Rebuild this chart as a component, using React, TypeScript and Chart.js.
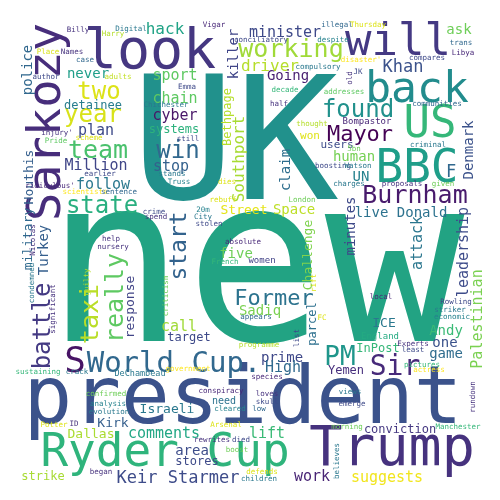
import React, { useEffect, useRef } from "react";
import { Chart, registerables } from "chart.js";
Chart.register(...registerables);

const words: string[] = [];
const xs: number[] = [];
const ys: number[] = [];
const sizes: number[] = [];
const vertical: boolean[] = [];
const colors: string[] = [];
function w(t: string, x: number, y: number, s: number, c: string, v = false) {
  words.push(t); xs.push(x); ys.push(y); sizes.push(s); colors.push(c); vertical.push(v);
}
w("UK", 235, 199, 172, "#21918c");
w("new", 255, 341, 232, "#22a383");
w("president", 243, 423, 81, "#3b528b");
w("Ryder Cup", 165, 466, 46, "#2fb47c");
w("Trump", 392, 465, 55, "#46327e");
w("look", 150, 68, 55, "#453781");
w("will", 398, 55, 44, "#443983");
w("back", 417, 102, 43, "#228c8d");
w("US", 430, 137, 44, "#35b779");
w("BBC", 417, 182, 46, "#1f9e89");
w("Sarkozy", 60, 122, 47, "#472d7b", true);
w("found", 358, 117, 24, "#21918c");
w("Mayor", 360, 141, 22, "#440154");
w("Burnham", 415, 203, 25, "#481a6c");
w("working", 291, 57, 25, "#a0da39");
w("minister", 285, 37, 15, "#3e4989");
w("hack", 165, 34, 16, "#20a386");
w("driver", 270, 71, 16, "#b5de2b");
w("Khan", 403, 72, 17, "#3b528b");
w("Going", 288, 80, 14, "#481f70");
w("ask", 459, 34, 14, "#6ece58");
w("two", 99, 99, 24, "#dde318");
w("year", 93, 122, 24, "#d8e219");
w("team", 98, 158, 25, "#4ac16d");
w("state", 102, 213, 24, "#29af7f");
w("never", 88, 78, 14, "#1f9e89");
w("detainee", 93, 109, 12, "#287d8e");
w("plan", 96, 135, 15, "#3e4a89");
w("Million", 96, 170, 15, "#404688");
w("follow", 103, 189, 15, "#2a788e");
w("sport", 175, 80, 15, "#5ec962");
w("chain", 175, 103, 15, "#5ec962");
w("cyber", 175, 120, 15, "#481668");
w("systems", 174, 133, 12, "#2db27d");
w("win", 178, 158, 24, "#31688e");
w("stop", 171, 171, 15, "#34618d");
w("Street", 244, 214, 13, "#e5e419");
w("Space", 294, 214, 14, "#bddf26");
w("users", 337, 148, 11, "#3e4c8a");
w("human", 354, 161, 14, "#75d054");
w("UN", 361, 181, 14, "#26828e");
w("won", 310, 139, 11, "#dfe318");
w("live Donald", 401, 217, 14, "#2c728e");
w("Bompastor", 367, 124, 9, "#482677");
w("F", 451, 177, 17, "#31688e");
w("police", 32, 70, 14, "#31688e", true);
w("Houthis", 33, 177, 13, "#355f8d", true);
w("killer", 238, 54, 14, "#404588", true);
w("Bethpage", 231, 117, 12, "#b5de2b", true);
w("Southport", 244, 159, 16, "#a8db34", true);
w("claim", 290, 170, 14, "#2e6e8e", true);
w("Denmark", 473, 150, 14, "#3b528b", true);
w("minutes", 355, 226, 14, "#3e4989", true);
w("start", 186, 246, 23, "#33638d", true);
w("military", 32, 239, 13, "#30698e", true);
w("Turkey", 48, 250, 14, "#355f8d", true);
w("Challenge", 312, 255, 13, "#7fd34e", true);
w("leadership", 468, 252, 15, "#3e4c8a", true);
w("attack", 422, 243, 15, "#2a768e", true);
w("battle", 50, 326, 24, "#443a83", true);
w("taxi", 98, 314, 25, "#bade28", true);
w("really", 123, 298, 25, "#5ec962", true);
w("response", 134, 307, 13, "#414487", true);
w("parcel", 316, 324, 12, "#2d708e", true);
w("Palestinian", 482, 319, 15, "#7ad151", true);
w("S", 75, 372, 36, "#471365");
w("World Cup.", 174, 372, 29, "#31688e");
w("PM", 340, 365, 26, "#1f968b");
w("Sir", 395, 375, 28, "#472a7a");
w("Former", 274, 305, 22, "#2c738e");
w("Sadiq", 260, 315, 14, "#7ad151");
w("call", 179, 331, 15, "#a0da39");
w("target", 189, 341, 12, "#3e4a89");
w("ICE", 384, 327, 13, "#2a788e");
w("Andy", 446, 335, 14, "#3aba76");
w("one", 445, 347, 14, "#3b528b");
w("game", 446, 358, 14, "#2f6c8e");
w("InPost", 378, 352, 12, "#35b779");
w("England", 380, 339, 9, "#25ab82");
w("prime", 282, 362, 14, "#3f4889");
w("High", 283, 372, 15, "#306a8e");
w("Yemen", 346, 374, 12, "#472f7d");
w("DeChambeau", 140, 376, 8.5, "#2a788e");
w("Israeli", 167, 413, 13, "#2a788e");
w("need", 224, 404, 10, "#2c728e");
w("Kirk", 113, 427, 13, "#355f8d");
w("Dallas", 91, 438, 13, "#aadc32");
w("comments", 164, 438, 15, "#22a785");
w("area", 192, 455, 14, "#3d4d8a");
w("stores", 197, 465, 12, "#3e4a89");
w("lift", 267, 438, 15, "#3aba76");
w("Keir Starmer", 178, 483, 17, "#3e4c8a");
w("strike", 43, 480, 12, "#a8db34");
w("work", 312, 481, 15, "#482475");
w("suggests", 387, 482, 15, "#f1e51d");
w("conviction", 400, 433, 12, "#453882");
w("five", 236, 258, 14, "#6ece58");
w("women", 262, 263, 9, "#414287");
const small: [string, number, number, string][] = [
  ["Billy", 78, 32, "#46327e"], ["Harry", 113, 36, "#b5de2b"], ["Digital", 131, 31, "#2a788e"],
  ["Vigar", 214, 27, "#482878"], ["conciliatory", 261, 42, "#3e4989"], ["illegal", 337, 27, "#31688e"],
  ["Thursday", 368, 27, "#dde318"], ["despite", 333, 42, "#26828e"], ["trans", 461, 45, "#31688e"],
  ["Libya", 463, 55, "#482878"], ["compares", 427, 60, "#3e4989"], ["disaster'", 361, 62, "#fde725"],
  ["compulsory", 318, 69, "#2a788e"], ["JK", 358, 74, "#3e4989"], ["Place", 48, 54, "#d8e219"],
  ["Names", 72, 54, "#46327e"], ["case", 85, 62, "#31688e"], ["author", 46, 79, "#3e4989"],
  ["adults", 118, 79, "#c2df23"], ["Emma", 187, 89, "#3e4989"], ["Chichester", 166, 107, "#2a788e"],
  ["decade", 285, 92, "#35b779"], ["addresses", 344, 94, "#5ec962"], ["half", 279, 106, "#46327e"],
  ["communities", 437, 106, "#31688e"], ["thought", 312, 126, "#b5de2b"], ["injury'", 57, 135, "#46327e"],
  ["scheme", 89, 140, "#dde318"], ["Pride", 56, 143, "#5ec962"], ["still", 188, 141, "#3e4989"],
  ["criminal", 428, 147, "#2a788e"], ["5bn", 354, 151, "#6ece58"], ["earlier", 100, 176, "#3e4989"],
  ["boosting", 333, 168, "#3e4989"], ["Watson", 358, 168, "#2a788e"], ["stands", 172, 176, "#2a788e"],
  ["Truss", 179, 184, "#26828e"], ["dies", 227, 184, "#dde318"], ["charges", 349, 186, "#2a788e"],
  ["proposals", 402, 186, "#46327e"], ["given", 443, 186, "#6ece58"], ["ridiculous'", 50, 188, "#482878"],
  ["scientists", 85, 194, "#fde725"], ["sentence", 119, 194, "#31688e"], ["rebuff", 223, 202, "#dde318"],
  ["London", 302, 202, "#6ece58"], ["crime", 154, 214, "#3e4989"], ["20m", 203, 212, "#26828e"],
  ["spend", 156, 219, "#46327e"], ["City", 203, 219, "#2a788e"], ["stolen", 209, 226, "#3e4989"],
  ["help", 111, 241, "#46327e"], ["absolute", 243, 244, "#482878"], ["nursery", 113, 249, "#46327e"],
  ["French", 225, 264, "#35b779"], ["sustaining", 38, 374, "#35b779"], ["crack", 77, 374, "#2a788e"],
  ["government", 188, 371, "#fde725"], ["confirmed", 106, 396, "#6ece58"], ["analysis", 108, 406, "#26828e"],
  ["evolution", 109, 414, "#2a788e"], ["Potter", 54, 427, "#dde318"], ["ID", 74, 426, "#46327e"],
  ["began", 101, 474, "#46327e"], ["conspiracy", 221, 393, "#482878"], ["cleared", 230, 411, "#26828e"],
  ["Arsenal", 226, 427, "#dde318"], ["died", 241, 442, "#3e4989"], ["boost", 237, 452, "#6ece58"],
  ["rewrites", 212, 442, "#46327e"], ["defends", 262, 474, "#dde318"], ["children", 259, 481, "#2a788e"],
  ["loves", 267, 396, "#46327e"], ["skull", 267, 404, "#3e4989"], ["low", 259, 411, "#31688e"],
  ["species", 267, 379, "#482878"], ["views", 350, 394, "#2a788e"], ["emerge", 352, 406, "#3e4989"],
  ["morning", 347, 429, "#6ece58"], ["Manchester", 458, 429, "#35b779"], ["local", 381, 299, "#482878"],
  ["Rowling", 456, 304, "#3e4989"], ["striker", 450, 312, "#2a788e"], ["economic", 452, 319, "#26828e"],
  ["appears", 256, 319, "#31688e"], ["Experts", 413, 346, "#46327e"], ["least", 413, 352, "#3e4989"],
  ["pictures", 422, 367, "#35b779"], ["actress", 429, 372, "#fde725"], ["programme", 259, 347, "#b5de2b"],
  ["FC", 322, 320, "#dde318"],
];
small.forEach(([t, x, y, c]) => w(t, x, y, 7.5, c));
const smallVertical: [string, number, number, string][] = [
  ["criticism", 168, 296, "#6ece58"], ["significant", 55, 309, "#46327e"], ["condemned", 34, 283, "#2a788e"],
  ["guilty", 89, 282, "#b5de2b"], ["rift", 316, 283, "#dde318"], ["list", 299, 338, "#3e4989"],
  ["believes", 339, 461, "#2a788e"], ["rundown", 475, 397, "#46327e"], ["Nicolas", 35, 240, "#46327e"],
  ["old", 352, 78, "#46327e"],
];
smallVertical.forEach(([t, x, y, c]) => w(t, x, y, 7.5, c, true));

const FONT = '"DejaVu Sans Mono", monospace';

const textPlugin = {
  id: "wordText",
  afterDatasetsDraw(chart: any) {
    const ctx = chart.ctx;
    const meta = chart.getDatasetMeta(0);
    ctx.save();
    ctx.textAlign = "center";
    ctx.textBaseline = "alphabetic";
    meta.data.forEach((el: any, i: number) => {
      ctx.save();
      ctx.fillStyle = colors[i];
      ctx.font = `${sizes[i]}px ${FONT}`;
      ctx.translate(el.x, el.y);
      if (vertical[i]) ctx.rotate(-Math.PI / 2);
      ctx.fillText(words[i], 0, 0);
      ctx.restore();
    });
    ctx.restore();
  },
};

export default function App() {
  const ref = useRef<HTMLCanvasElement>(null);
  useEffect(() => {
    document.body.style.margin = "0";
    const chart = new Chart(ref.current!, {
      type: "scatter",
      data: {
        datasets: [
          {
            data: words.map((_, i) => ({ x: xs[i], y: ys[i] })),
            pointRadius: 0,
            pointHoverRadius: 0,
          },
        ],
      },
      options: {
        animation: false,
        responsive: false,
        layout: { padding: 0 },
        plugins: { legend: { display: false }, tooltip: { enabled: false } },
        scales: {
          x: { type: "linear", min: 0, max: 500, display: false },
          y: { type: "linear", min: 0, max: 500, reverse: true, display: false },
        },
      },
      plugins: [textPlugin],
    });
    return () => chart.destroy();
  }, []);
  return (
    <div style={{ width: 500, height: 500, background: "#fff" }}>
      <canvas ref={ref} width={500} height={500} />
    </div>
  );
}
